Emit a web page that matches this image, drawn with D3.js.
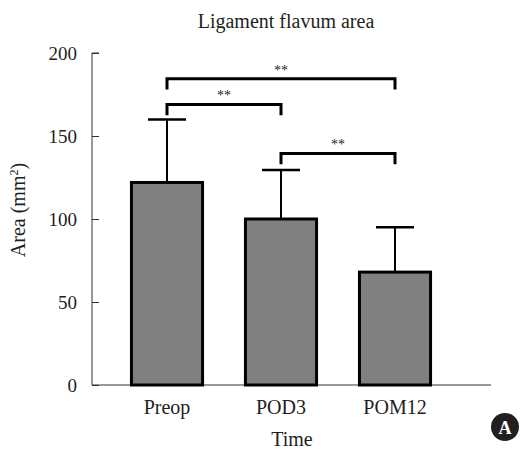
<!DOCTYPE html>
<html>
<head>
<meta charset="utf-8">
<script src="https://cdn.jsdelivr.net/npm/d3@7"></script>
<style>
  body { margin: 0; background: #fff; }
  text { font-family: "Liberation Serif", "DejaVu Serif", serif; fill: #231f20; }
</style>
</head>
<body>
<svg id="chart" width="524" height="450"></svg>
<script>
var categories = ["Preop", "POD3", "POM12"];
var means = [122, 100, 68];
var errTops = [160, 129.5, 95];
var yTicks = [0, 50, 100, 150, 200];
// significance brackets: from, to, bracket height, leg bottom
var brackets = [
  { a: "Preop", b: "POM12", y: 184.5, leg: 178, label: "**" },
  { a: "Preop", b: "POD3", y: 169, leg: 162.5, label: "**" },
  { a: "POD3", b: "POM12", y: 139.5, leg: 133, label: "**" }
];

var svg = d3.select("#chart");
var plotLeft = 92, plotRight = 491, plotTop = 53, plotBottom = 385;

var x = d3.scaleBand().domain(categories).range([110, 452])
    .paddingInner(0.35).paddingOuter(0.175);
var y = d3.scaleLinear().domain([0, 200]).range([plotBottom, plotTop]);

var data = categories.map((c, i) => ({ cat: c, mean: means[i], err: errTops[i] }));

// title
svg.append("text")
    .attr("x", 286).attr("y", 28)
    .attr("text-anchor", "middle")
    .attr("font-size", 20)
    .text("Ligament flavum area");

// y axis
var yAxis = svg.append("g")
    .attr("transform", `translate(${plotLeft},0)`)
    .call(d3.axisRight(y).tickValues(yTicks).tickSize(7).tickFormat(d3.format("d")));
yAxis.select(".domain").attr("stroke", "#333").attr("d", `M7,${plotTop}H0V${plotBottom}`);
yAxis.selectAll(".tick line").attr("stroke", "#333");
yAxis.selectAll(".tick text")
    .attr("x", -15).attr("text-anchor", "end")
    .attr("font-size", 19)
    .attr("fill", "#231f20")
    .attr("font-family", "Liberation Serif, serif");

// x axis line
svg.append("line")
    .attr("x1", plotLeft).attr("x2", plotRight)
    .attr("y1", plotBottom).attr("y2", plotBottom)
    .attr("stroke", "#333").attr("stroke-width", 1);

// error bars (drawn first so bar covers stem)
var eb = svg.append("g");
eb.selectAll(".stem").data(data).join("line")
    .attr("x1", d => x(d.cat) + x.bandwidth() / 2)
    .attr("x2", d => x(d.cat) + x.bandwidth() / 2)
    .attr("y1", d => y(d.mean)).attr("y2", d => y(d.err))
    .attr("stroke", "#000").attr("stroke-width", 2);
eb.selectAll(".cap").data(data).join("line")
    .attr("x1", d => x(d.cat) + x.bandwidth() / 2 - 19)
    .attr("x2", d => x(d.cat) + x.bandwidth() / 2 + 19)
    .attr("y1", d => y(d.err)).attr("y2", d => y(d.err))
    .attr("stroke", "#000").attr("stroke-width", 2.5);

// bars
svg.append("g").selectAll("rect").data(data).join("rect")
    .attr("x", d => x(d.cat) + 1.5)
    .attr("width", x.bandwidth() - 3)
    .attr("y", d => y(d.mean))
    .attr("height", d => plotBottom - y(d.mean))
    .attr("fill", "#808080")
    .attr("stroke", "#000")
    .attr("stroke-width", 3);

// category labels
svg.append("g").selectAll("text").data(categories).join("text")
    .attr("x", d => x(d) + x.bandwidth() / 2)
    .attr("y", 414)
    .attr("text-anchor", "middle")
    .attr("font-size", 20)
    .text(d => d);

// axis titles
svg.append("text")
    .attr("x", 292).attr("y", 446)
    .attr("text-anchor", "middle")
    .attr("font-size", 20)
    .text("Time");

var yl = svg.append("text")
    .attr("transform", "translate(25,210) rotate(-90)")
    .attr("text-anchor", "middle")
    .attr("font-size", 20);
yl.append("tspan").text("Area (mm");
yl.append("tspan").attr("font-size", 12).attr("dy", -7).text("2");
yl.append("tspan").attr("dy", 7).text(")");

// significance brackets
var bg = svg.append("g");
brackets.forEach(b => {
  var xa = x(b.a) + x.bandwidth() / 2, xb = x(b.b) + x.bandwidth() / 2;
  bg.append("path")
    .attr("d", `M${xa},${y(b.leg)}V${y(b.y)}H${xb}V${y(b.leg)}`)
    .attr("fill", "none").attr("stroke", "#000").attr("stroke-width", 3);
  bg.append("text")
    .attr("x", (xa + xb) / 2).attr("y", y(b.y) - 4)
    .attr("text-anchor", "middle")
    .attr("font-size", 14)
    .attr("font-family", "DejaVu Sans, sans-serif")
    .text(b.label);
});

// panel label
svg.append("circle").attr("cx", 505).attr("cy", 427).attr("r", 14).attr("fill", "#231f20");
svg.append("text")
    .attr("x", 505).attr("y", 433.5)
    .attr("text-anchor", "middle")
    .attr("font-family", "Liberation Sans, Arial, sans-serif")
    .attr("font-weight", "bold")
    .attr("font-size", 18)
    .style("fill", "#fff")
    .text("A");
</script>
</body>
</html>
